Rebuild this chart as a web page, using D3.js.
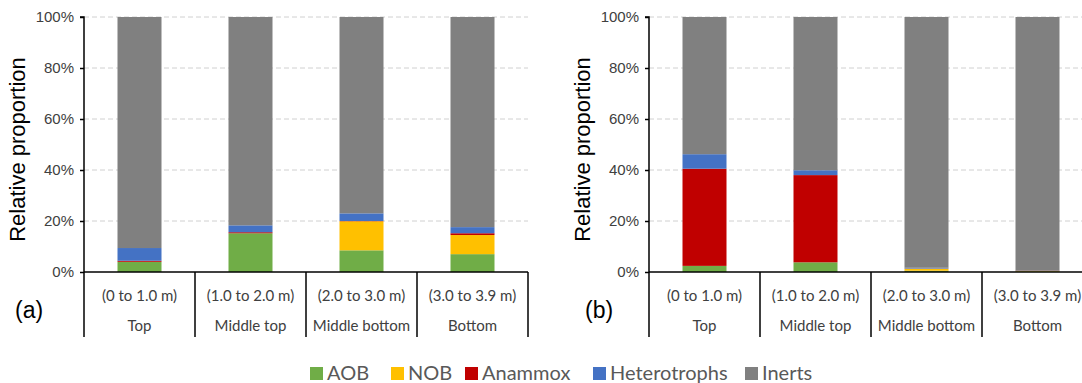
<!DOCTYPE html>
<html>
<head>
<meta charset="utf-8">
<script src="https://cdn.jsdelivr.net/npm/d3@7"></script>
<style>
  body { margin: 0; background: #fff; }
  svg { display: block; }
  .tick-label { font-family: "Liberation Sans", Arial, sans-serif; font-size: 15px; fill: #404040; }
  .axis-title { font-family: "Liberation Sans", Arial, sans-serif; font-size: 22px; fill: #000; }
  .panel-label { font-family: "Liberation Sans", Arial, sans-serif; font-size: 23px; fill: #000; }
  .cat-label { font-family: Lato, "Open Sans", sans-serif; font-size: 15px; fill: #404040; }
  .legend-text { font-family: Lato, "Open Sans", sans-serif; font-size: 20px; fill: #595959; }
</style>
</head>
<body>
<div id="chart"></div>
<script>
// categories
const categories = ["Top", "Middle top", "Middle bottom", "Bottom"];
const depths = ["(0 to 1.0 m)", "(1.0 to 2.0 m)", "(2.0 to 3.0 m)", "(3.0 to 3.9 m)"];
const groups = ["AOB", "NOB", "Anammox", "Heterotrophs", "Inerts"];
const colors = ["#70AD47", "#FFC000", "#C00000", "#4472C4", "#808080"];
const yTicks = [0, 20, 40, 60, 80, 100];

// panel (a) values, %
const aobA = [4.0, 15.2, 8.5, 7.0];
const nobA = [0, 0, 11.4, 7.5];
const anammoxA = [0.4, 0.4, 0.1, 0.7];
const hetA = [5.0, 2.7, 3.0, 2.4];
const inertsA = [90.6, 81.7, 77.0, 82.4];

// panel (b) values, %
const aobB = [2.4, 3.8, 0.5, 0.2];
const nobB = [0, 0, 0.8, 0.2];
const anammoxB = [38.1, 34.2, 0.05, 0.1];
const hetB = [5.7, 1.9, 0.3, 0.0];
const inertsB = [53.8, 60.1, 98.35, 99.5];

const width = 1082, height = 383;
const svg = d3.select("#chart").append("svg")
  .attr("width", width).attr("height", height);

const yScale = d3.scaleLinear().domain([0, 100]).range([272, 17]);

function toRows(series) {
  return categories.map((c, i) => {
    const row = { cat: c };
    groups.forEach((g, j) => { row[g] = series[j][i]; });
    return row;
  });
}

function drawPanel(x0, series, label, labelX) {
  const g = svg.append("g");
  const xScale = d3.scaleBand().domain(categories)
    .range([x0, x0 + 111 * categories.length]).padding(0);
  const barW = 44;

  // gridlines
  g.selectAll(".grid").data(yTicks.filter(d => d > 0)).enter()
    .append("line")
    .attr("x1", x0).attr("x2", x0 + 111 * categories.length)
    .attr("y1", d => yScale(d)).attr("y2", d => yScale(d))
    .attr("stroke", "#d0d0d0").attr("stroke-width", 1)
    .attr("stroke-dasharray", "5,3");

  // stacked bars
  const stack = d3.stack().keys(groups);
  const layers = stack(toRows(series));
  g.selectAll(".layer").data(layers).enter()
    .append("g")
    .attr("fill", (d, i) => colors[i])
    .selectAll("rect").data(d => d).enter()
    .append("rect")
    .attr("x", d => xScale(d.data.cat) + (xScale.bandwidth() - barW) / 2)
    .attr("width", barW)
    .attr("y", d => yScale(d[1]))
    .attr("height", d => yScale(d[0]) - yScale(d[1]));

  // y axis
  const yAxis = d3.axisLeft(yScale).tickValues(yTicks)
    .tickSize(4).tickFormat(d => d + "%");
  const ax = g.append("g").attr("transform", `translate(${x0},0)`).call(yAxis);
  ax.select(".domain").attr("stroke", "#000").attr("stroke-width", 1.5)
    .attr("d", `M-4,${yScale(100)}H0V${yScale(0)}`);
  ax.selectAll(".tick line").attr("stroke", "#000").attr("stroke-width", 1.5);
  ax.selectAll(".tick text").attr("class", "tick-label").attr("x", -10)
    .attr("font-size", null).attr("font-family", null);
  ax.attr("font-size", null).attr("font-family", null);

  // x axis: baseline + separators
  g.append("line")
    .attr("x1", x0).attr("x2", x0 + 111 * categories.length)
    .attr("y1", yScale(0)).attr("y2", yScale(0))
    .attr("stroke", "#000").attr("stroke-width", 1.5);
  const bounds = categories.map(c => xScale(c)).concat([x0 + 111 * categories.length]);
  g.selectAll(".sep").data(bounds).enter()
    .append("line")
    .attr("x1", d => d).attr("x2", d => d)
    .attr("y1", yScale(0)).attr("y2", 337)
    .attr("stroke", "#000").attr("stroke-width", 1.5);

  g.selectAll(".depth").data(depths).enter()
    .append("text").attr("class", "cat-label")
    .attr("x", (d, i) => xScale(categories[i]) + xScale.bandwidth() / 2)
    .attr("y", 301).attr("text-anchor", "middle").text(d => d);
  g.selectAll(".cat").data(categories).enter()
    .append("text").attr("class", "cat-label")
    .attr("x", d => xScale(d) + xScale.bandwidth() / 2)
    .attr("y", 331).attr("text-anchor", "middle").text(d => d);

  // axis title
  g.append("text").attr("class", "axis-title")
    .attr("transform", `translate(${x0 - 59},${yScale(50) + 5})rotate(-90)`)
    .attr("text-anchor", "middle").text("Relative proportion");

  g.append("text").attr("class", "panel-label")
    .attr("x", labelX).attr("y", 318).text(label);
}

drawPanel(84, [aobA, nobA, anammoxA, hetA, inertsA], "(a)", 15);
drawPanel(649, [aobB, nobB, anammoxB, hetB, inertsB], "(b)", 585);

// legend
const legendX = [310, 391, 465, 593, 745];
const legend = svg.append("g");
const items = legend.selectAll(".item").data(groups).enter()
  .append("g").attr("transform", (d, i) => `translate(${legendX[i]},373)`);
items.append("rect").attr("x", 0).attr("y", -6).attr("width", 13).attr("height", 13)
  .attr("fill", (d, i) => colors[i]);
items.append("text").attr("class", "legend-text")
  .attr("x", 17).attr("y", 7).text(d => d);
</script>
</body>
</html>
